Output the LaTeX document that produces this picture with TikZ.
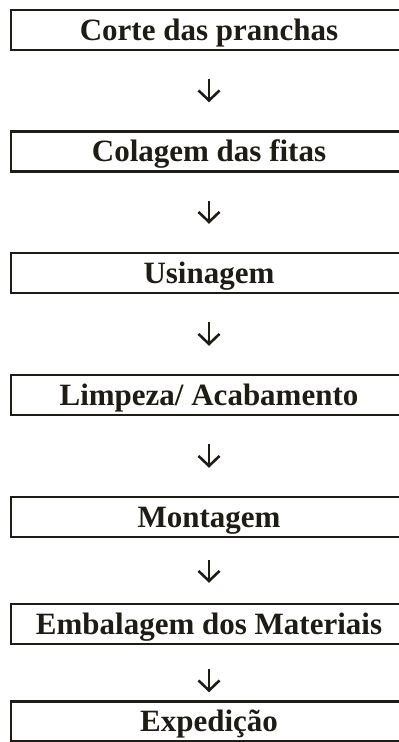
\documentclass[tikz,border=0pt]{standalone}
\usepackage{fontspec}
\setmainfont{Liberation Serif}
\usetikzlibrary{arrows.meta}
\definecolor{ink}{RGB}{30,28,20}
\begin{document}
\begin{tikzpicture}[x=1pt,y=-1pt,
  stepbox/.style={draw=ink, line width=2.5pt, minimum width=396pt, minimum height=40pt,
    inner sep=0pt, font=\bfseries\fontsize{31}{31}\selectfont, text=ink,
    text height=20.5pt, text depth=0pt},
  flow/.style={draw=ink, line width=2.6pt, -{Straight Barb[length=10pt,width=21pt]}}]
\useasboundingbox (0,0) rectangle (399,742);
\clip (0,0) rectangle (399,742);
\node[stepbox] (b1) at (209,30) {Corte das pranchas};
\node[stepbox] (b2) at (209,151.5) {Colagem das fitas};
\node[stepbox] (b3) at (209,273) {Usinagem};
\node[stepbox] (b4) at (209,395) {Limpeza/ Acabamento};
\node[stepbox] (b5) at (209,517) {Montagem};
\node[stepbox] (b6) at (209,624) {Embalagem dos Materiais};
\node[stepbox] (b7) at (209,721.5) {Expedição};
\draw[flow, shorten <=28pt, shorten >=28pt] (b1) -- (b2);
\draw[flow, shorten <=28pt, shorten >=28pt] (b2) -- (b3);
\draw[flow, shorten <=28pt, shorten >=28pt] (b3) -- (b4);
\draw[flow, shorten <=28pt, shorten >=28pt] (b4) -- (b5);
\draw[flow, shorten <=22pt, shorten >=20pt] (b5) -- (b6);
\draw[flow, shorten <=24pt, shorten >=8pt] (b6) -- (b7);
\end{tikzpicture}
\end{document}
